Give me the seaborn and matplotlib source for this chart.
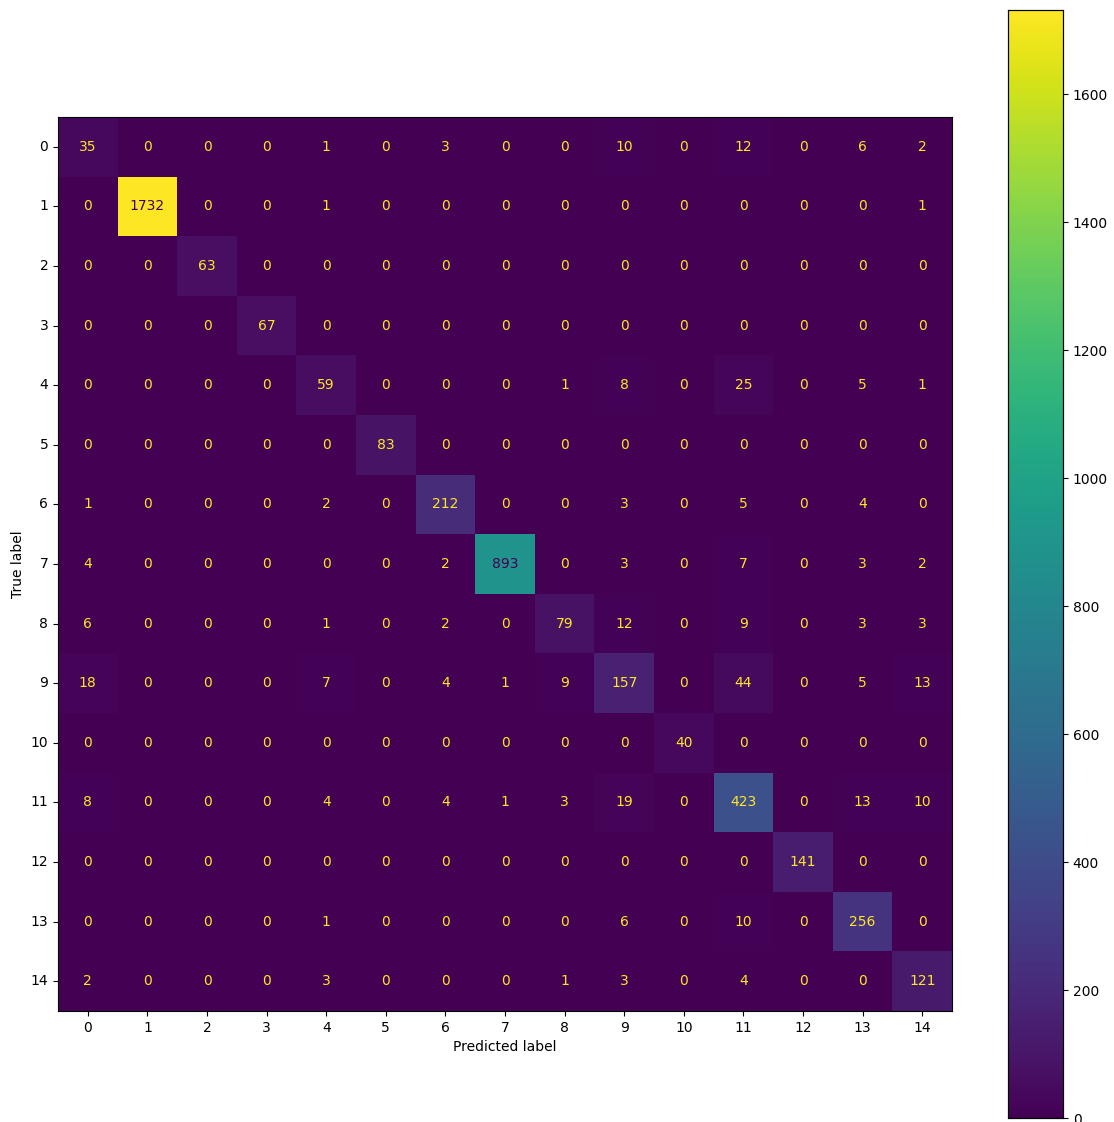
import numpy as np
import pandas as pd
import matplotlib
matplotlib.use("Agg")
import matplotlib.pyplot as plt
import seaborn as sns

labels = [str(i) for i in range(15)]
row0 = [35, 0, 0, 0, 1, 0, 3, 0, 0, 10, 0, 12, 0, 6, 2]
row1 = [0, 1732, 0, 0, 1, 0, 0, 0, 0, 0, 0, 0, 0, 0, 1]
row2 = [0, 0, 63, 0, 0, 0, 0, 0, 0, 0, 0, 0, 0, 0, 0]
row3 = [0, 0, 0, 67, 0, 0, 0, 0, 0, 0, 0, 0, 0, 0, 0]
row4 = [0, 0, 0, 0, 59, 0, 0, 0, 1, 8, 0, 25, 0, 5, 1]
row5 = [0, 0, 0, 0, 0, 83, 0, 0, 0, 0, 0, 0, 0, 0, 0]
row6 = [1, 0, 0, 0, 2, 0, 212, 0, 0, 3, 0, 5, 0, 4, 0]
row7 = [4, 0, 0, 0, 0, 0, 2, 893, 0, 3, 0, 7, 0, 3, 2]
row8 = [6, 0, 0, 0, 1, 0, 2, 0, 79, 12, 0, 9, 0, 3, 3]
row9 = [18, 0, 0, 0, 7, 0, 4, 1, 9, 157, 0, 44, 0, 5, 13]
row10 = [0, 0, 0, 0, 0, 0, 0, 0, 0, 0, 40, 0, 0, 0, 0]
row11 = [8, 0, 0, 0, 4, 0, 4, 1, 3, 19, 0, 423, 0, 13, 10]
row12 = [0, 0, 0, 0, 0, 0, 0, 0, 0, 0, 0, 0, 141, 0, 0]
row13 = [0, 0, 0, 0, 1, 0, 0, 0, 0, 6, 0, 10, 0, 256, 0]
row14 = [2, 0, 0, 0, 3, 0, 0, 0, 1, 3, 0, 4, 0, 0, 121]

cm = np.array([row0, row1, row2, row3, row4, row5, row6, row7, row8, row9,
               row10, row11, row12, row13, row14])
df = pd.DataFrame(cm, index=labels, columns=labels)

fig = plt.figure(figsize=(11.14, 11.22), dpi=100)
ax = fig.add_axes([58/1114, 111/1122, 894/1114, 894/1122])
cax = fig.add_axes([1008/1114, 4/1122, 55/1114, 1108/1122])

cmap = plt.get_cmap("viridis")
vmax = cm.max()
sns.heatmap(df, ax=ax, cbar_ax=cax, cmap="viridis", vmin=0, vmax=vmax,
            annot=True, fmt="d", annot_kws={"fontsize": 10})

thresh = (cm.max() + cm.min()) / 2.0
for t in ax.texts:
    v = int(t.get_text())
    t.set_color(cmap(0.0) if v > thresh else cmap(1.0))

for s in ax.spines.values():
    s.set_visible(True)
    s.set_linewidth(0.8)
    s.set_color("black")
ax.tick_params(axis="both", length=3.5, width=0.8, labelsize=10)
ax.set_yticklabels(labels, rotation=0, va="center")
ax.set_xticklabels(labels, rotation=0)
ax.set_xlabel("Predicted label", fontsize=10)
ax.set_ylabel("True label", fontsize=10)

cax.set_yticks([0, 200, 400, 600, 800, 1000, 1200, 1400, 1600])
cax.tick_params(labelsize=10, length=3.5, width=0.8)
for s in cax.spines.values():
    s.set_visible(True)
    s.set_linewidth(0.8)

fig.savefig("out.png", dpi=100)
